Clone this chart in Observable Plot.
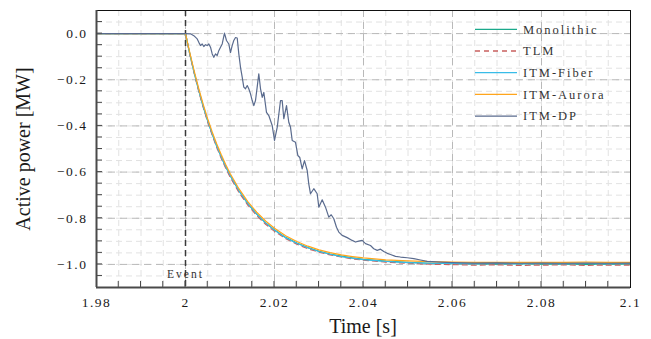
<!DOCTYPE html>
<html><head><meta charset="utf-8">
<script src="https://cdn.jsdelivr.net/npm/d3@7"></script>
<script src="https://cdn.jsdelivr.net/npm/@observablehq/plot@0.6"></script>
<style>
body{margin:0;background:#fff}
#chart{width:651px;height:339px}
#chart svg text{font-family:"Liberation Serif",serif !important}
</style>
</head><body><div id="chart"></div>
<script>
const seriesNames = ["Monolithic", "TLM", "ITM-Fiber", "ITM-Aurora", "ITM-DP"];
const seriesColors = ["#1aa98b", "#c9605f", "#38bce8", "#ffa51c", "#5a6b8e"];
const seriesDash = [null, "5,4", null, null, null];

const time = [1.98, 1.99, 2.0, 2.001, 2.002, 2.003, 2.004, 2.005, 2.006, 2.007, 2.008, 2.009, 2.01,
  2.012, 2.014, 2.016, 2.018, 2.02, 2.0225, 2.025, 2.0275, 2.03, 2.0325, 2.035, 2.0375, 2.04,
  2.045, 2.05, 2.055, 2.06, 2.065, 2.07, 2.075, 2.08, 2.085, 2.09, 2.095, 2.1];
const monolithic = [0, 0, 0, -0.091, -0.173, -0.248, -0.317, -0.379, -0.435, -0.487, -0.533, -0.576, -0.614,
  -0.681, -0.737, -0.782, -0.820, -0.851, -0.883, -0.907, -0.927, -0.943, -0.955, -0.964, -0.972, -0.978,
  -0.986, -0.991, -0.995, -0.997, -0.998, -0.999, -0.997, -0.999, -0.998, -1.000, -0.998, -0.999];
const tlm = [0, 0, 0, -0.093, -0.176, -0.252, -0.321, -0.384, -0.440, -0.492, -0.539, -0.581, -0.620,
  -0.688, -0.743, -0.788, -0.826, -0.857, -0.888, -0.912, -0.932, -0.947, -0.959, -0.968, -0.976, -0.982,
  -0.990, -0.995, -0.999, -1.001, -1.003, -1.002, -1.004, -1.003, -1.002, -1.004, -1.003, -1.003];
const itmFiber = [0, 0, 0, -0.090, -0.172, -0.247, -0.316, -0.378, -0.434, -0.486, -0.532, -0.575, -0.613,
  -0.680, -0.736, -0.782, -0.820, -0.851, -0.884, -0.908, -0.928, -0.944, -0.956, -0.966, -0.973, -0.979,
  -0.987, -0.992, -0.995, -0.996, -0.997, -0.996, -0.997, -0.996, -0.997, -0.996, -0.997, -0.996];
const itmAurora = [0, 0, 0, -0.086, -0.166, -0.240, -0.308, -0.370, -0.426, -0.477, -0.523, -0.566, -0.605,
  -0.672, -0.728, -0.774, -0.812, -0.843, -0.876, -0.901, -0.921, -0.937, -0.949, -0.959, -0.966, -0.972,
  -0.980, -0.985, -0.988, -0.990, -0.991, -0.991, -0.991, -0.991, -0.991, -0.990, -0.991, -0.991];

const dpTime = [1.98, 2.0, 2.00112, 2.00187, 2.00263, 2.00299, 2.00337, 2.00375, 2.00411, 2.00449, 2.00488,
  2.00524, 2.00562, 2.006, 2.00636, 2.00674, 2.00712, 2.00748, 2.00787, 2.00825, 2.00876, 2.00921, 2.00973,
  2.01011, 2.01049, 2.01085, 2.01124, 2.01162, 2.01198, 2.01236, 2.01274, 2.0131, 2.01348, 2.01387, 2.01422,
  2.01461, 2.01499, 2.01535, 2.01573, 2.01611, 2.01647, 2.01685, 2.01724, 2.0176, 2.0182, 2.01872, 2.01948,
  2.02, 2.02061, 2.02135, 2.02173, 2.02209, 2.0227, 2.02321, 2.0236, 2.02398, 2.02472, 2.02524, 2.02569,
  2.02622, 2.02674, 2.02735, 2.0277, 2.02809, 2.02883, 2.02959, 2.02996, 2.03072, 2.03146, 2.0322, 2.03274,
  2.03333, 2.03393, 2.03445, 2.03521, 2.03634, 2.03746, 2.0382, 2.03894, 2.03971, 2.04045, 2.04157, 2.04231,
  2.04308, 2.04382, 2.04456, 2.04533, 2.04607, 2.04719, 2.04831, 2.04982, 2.0513, 2.05281, 2.05431, 2.0573,
  2.06, 2.065, 2.07, 2.075, 2.08, 2.085, 2.09, 2.095, 2.1];
const dpValue = [0, 0, -0.001, -0.009, -0.023, -0.038, -0.052, -0.045, -0.056, -0.048, -0.052,
  -0.045, -0.059, -0.088, -0.103, -0.088, -0.095, -0.074, -0.059, -0.045, 0.002, -0.030, -0.045,
  -0.082, -0.052, -0.030, -0.017, -0.019, -0.088, -0.146, -0.189, -0.232, -0.239, -0.225, -0.239,
  -0.261, -0.290, -0.312, -0.290, -0.232, -0.174, -0.238, -0.276, -0.255, -0.341, -0.355, -0.398,
  -0.463, -0.406, -0.290, -0.290, -0.369, -0.312, -0.384, -0.406, -0.463, -0.471, -0.528, -0.537,
  -0.586, -0.550, -0.593, -0.651, -0.694, -0.672, -0.694, -0.752, -0.720, -0.752, -0.795, -0.785,
  -0.802, -0.839, -0.860, -0.874, -0.884, -0.896, -0.903, -0.899, -0.896, -0.910, -0.918, -0.932,
  -0.939, -0.934, -0.944, -0.952, -0.957, -0.965, -0.968, -0.971, -0.975, -0.981, -0.987, -0.990,
  -0.992, -0.994, -0.993, -0.995, -0.994, -0.995, -0.994, -0.995, -0.994];

const xDomain = [1.98, 2.1];
const yDomain = [-1.1, 0.1];
const xMajorTicks = [1.98, 2, 2.02, 2.04, 2.06, 2.08, 2.1];
const xMinorTicks = [1.985, 1.99, 1.995, 2.005, 2.01, 2.015, 2.025, 2.03, 2.035, 2.045, 2.05, 2.055,
  2.065, 2.07, 2.075, 2.085, 2.09, 2.095];
const yMajorTicks = [0, -0.2, -0.4, -0.6, -0.8, -1.0];
const yMinorTicks = [0.05, -0.05, -0.1, -0.15, -0.25, -0.3, -0.35, -0.45, -0.5, -0.55, -0.65, -0.7, -0.75,
  -0.85, -0.9, -0.95, -1.05];
const xMajorGrid = [2, 2.02, 2.04, 2.06, 2.08];
const eventTime = [2];
const eventLabel = "Event";
const xLabel = "Time [s]";
const yLabel = "Active power [MW]";

const seriesValues = [monolithic, tlm, itmFiber, itmAurora];
const rows = [];
seriesValues.forEach((vals, i) => vals.forEach((v, j) => rows.push({series: seriesNames[i], t: time[j], v})));
dpTime.forEach((t, j) => rows.push({series: seriesNames[4], t, v: dpValue[j]}));

const serif = "Liberation Serif";
const lineMarks = seriesNames.map((name, i) =>
  Plot.line(rows.filter(d => d.series === name), {
    x: "t", y: "v", stroke: seriesColors[i], strokeWidth: 1.2,
    strokeDasharray: seriesDash[i] ?? undefined
  }));

const chart = Plot.plot({
  width: 651, height: 339,
  marginLeft: 96, marginRight: 21, marginTop: 10, marginBottom: 52,
  style: {background: "#fff", fontFamily: serif},
  x: {domain: xDomain},
  y: {domain: yDomain},
  marks: [
    Plot.ruleX([...xMinorTicks, ...xMajorGrid], {stroke: "#e2e2e2", strokeDasharray: "6,4"}),
    Plot.ruleY([...yMinorTicks, ...yMajorTicks], {stroke: "#e2e2e2", strokeDasharray: "6,4"}),
    Plot.ruleX(xMajorGrid, {stroke: "#b9b9b9", strokeDasharray: "7,5"}),
    Plot.ruleY(yMajorTicks, {stroke: "#b9b9b9", strokeDasharray: "7,5"}),
    Plot.ruleX(eventTime, {stroke: "#3a3a3a", strokeWidth: 1.5, strokeDasharray: "6,4"}),
    Plot.text(eventTime, {x: d => d, frameAnchor: "bottom", dy: -10, text: () => eventLabel,
      fontSize: 11.5, fill: "#333", fontFamily: serif, textAnchor: "middle"}),
    ...lineMarks,
    Plot.frame({stroke: "#111", strokeWidth: 1}),
    Plot.ruleX([xDomain[0]], {stroke: "#4a4a4a", strokeWidth: 2}),
    Plot.ruleY([yDomain[0]], {stroke: "#4a4a4a", strokeWidth: 2}),
    Plot.axisX({ticks: xMajorTicks, tickSize: 0, tickPadding: 10, tickFormat: d => String(d),
      fill: "#1a1a1a", fontSize: 13.5, fontFamily: serif, label: null}),
    Plot.axisY({ticks: yMajorTicks, tickSize: 0, tickPadding: 9,
      tickFormat: d => d === 0 ? "0.0" : "\u2212" + Math.abs(d).toFixed(1),
      fill: "#1a1a1a", fontSize: 13.5, fontFamily: serif, label: null})
  ]
});
document.getElementById("chart").appendChild(chart);

const svg = d3.select(chart);
svg.selectAll("g[aria-label='x-axis tick label'] text, g[aria-label='y-axis tick label'] text")
  .attr("letter-spacing", 1.5);
svg.selectAll("g[aria-label='text'] text").attr("letter-spacing", 2);

// inward tick marks, positioned through Plot's own scales
const sx = chart.scale("x"), sy = chart.scale("y");
const x0 = sx.apply(xDomain[0]), y0 = sy.apply(yDomain[0]);
const tickG = svg.append("g").attr("stroke", "#4a4a4a").attr("stroke-width", 1);
[...xMajorTicks.slice(1, -1), ...xMinorTicks].forEach(v => {
  const x = sx.apply(v);
  tickG.append("line").attr("x1", x).attr("x2", x).attr("y1", y0).attr("y2", y0 - 6);
});
[...yMajorTicks, ...yMinorTicks].forEach(v => {
  const y = sy.apply(v);
  tickG.append("line").attr("x1", x0).attr("x2", x0 + 6).attr("y1", y).attr("y2", y);
});

svg.append("text").attr("x", 363).attr("y", 333).attr("text-anchor", "middle")
  .attr("font-size", 20).attr("fill", "#1a1a1a").text(xLabel);
svg.append("text").attr("transform", "translate(30,149) rotate(-90)").attr("text-anchor", "middle")
  .attr("font-size", 20).attr("fill", "#1a1a1a").text(yLabel);

const leg = svg.append("g");
seriesNames.forEach((name, i) => {
  const y = 29.3 + 21.7 * i;
  leg.append("line").attr("x1", 475).attr("x2", 517).attr("y1", y).attr("y2", y)
    .attr("stroke", seriesColors[i]).attr("stroke-width", 1.3)
    .attr("stroke-dasharray", seriesDash[i]);
  leg.append("text").attr("x", 523).attr("y", y).attr("dy", "0.35em")
    .attr("text-anchor", "start")
    .attr("font-size", 12.5).attr("letter-spacing", 2)
    .attr("fill", "#333").text(name);
});
</script>
</body></html>
